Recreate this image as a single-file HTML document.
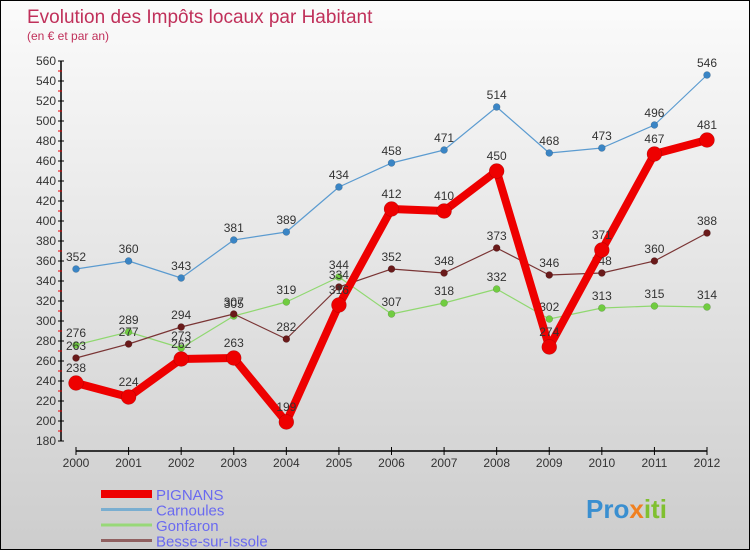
<!DOCTYPE html>
<html><head><meta charset="utf-8"><style>
body{margin:0;}
#c{width:750px;height:550px;position:relative;box-sizing:border-box;border:1px solid #000;background:linear-gradient(#fbfbfb,#cdcdcd);font-family:"Liberation Sans",sans-serif;overflow:hidden}
</style></head><body>
<div id="c">
<svg id="s" width="750" height="550" style="position:absolute;left:0;top:0">
<text x="26" y="22" font-size="19" fill="#c0305a">Evolution des Impôts locaux par Habitant</text>
<text x="26" y="39" font-size="12" fill="#c0305a">(en € et par an)</text>
<g id="axes"></g><g id="series"></g><g id="legend"></g>
<text x="585" y="517" font-size="26" font-weight="bold" fill="#3a8fd0">Pro<tspan fill="#f08020">x</tspan><tspan fill="#80c030">iti</tspan></text>
</svg></div>
<script>
const years=[2000,2001,2002,2003,2004,2005,2006,2007,2008,2009,2010,2011,2012];
const pignans=[238,224,262,263,199,316,412,410,450,274,371,467,481];
const carnoules=[352,360,343,381,389,434,458,471,514,468,473,496,546];
const gonfaron=[276,289,273,305,319,344,307,318,332,302,313,315,314];
const besse=[263,277,294,307,282,334,352,348,373,346,348,360,388];
const yTicks=[180,200,220,240,260,280,300,320,340,360,380,400,420,440,460,480,500,520,540,560];
const NS="http://www.w3.org/2000/svg";
const X=i=>75+i*(706-75)/(years.length-1);
const Y=v=>60+(560-v)*1.0;
function mk(t,a,p){const e=document.createElementNS(NS,t);for(const k in a)e.setAttribute(k,a[k]);p.appendChild(e);return e;}
const ax=document.getElementById('axes');
const yl=mk('line',{x1:60,y1:Y(560),x2:60,y2:Y(180),stroke:'#000','stroke-width':1.5},ax);


yTicks.forEach(v=>{
  mk('line',{x1:57,x2:63,y1:Y(v),y2:Y(v),stroke:'#000'},ax);
  if(v>180) mk('line',{x1:57,x2:61,y1:Y(v)+10,y2:Y(v)+10,stroke:'#e00'},ax);
  const t=mk('text',{x:55,y:Y(v)+4,'text-anchor':'end','font-size':12,fill:'#333'},ax);t.textContent=v;
  
  
});
const xl=mk('line',{x1:75,y1:450,x2:706,y2:450,stroke:'#000','stroke-width':1.5},ax);


years.forEach((y,i)=>{
  mk('line',{x1:X(i),x2:X(i),y1:446,y2:454,stroke:'#000'},ax);
  const t=mk('text',{x:X(i),y:466,'text-anchor':'middle','font-size':12,fill:'#333'},ax);t.textContent=y;
  
  
});
const sg=document.getElementById('series');
function draw(name,vals,color,w,r,dot){
  const g=mk('g',{},sg);
  
  
  mk('polyline',{points:vals.map((v,i)=>X(i)+','+Y(v)).join(' '),fill:'none',stroke:color,'stroke-width':w,'stroke-linejoin':'round'},g);
  vals.forEach((v,i)=>{
    const c=mk('circle',{cx:X(i),cy:Y(v),r:r,fill:dot,stroke:'rgba(0,0,0,0.25)','stroke-width':0.5},g);
    
    
    const t=mk('text',{x:X(i),y:Y(v)-8-(r>5?3:0),'text-anchor':'middle','font-size':12,fill:'#333'},g);t.textContent=v;
    
    
  });
}
draw('carnoules',carnoules,'#5b9bd0',1.2,3.5,'#3a85c5');
draw('gonfaron',gonfaron,'#90d870',1.2,3.5,'#70cc40');
draw('besse',besse,'#7a3535',1.2,3.5,'#6a1a1a');
draw('pignans',pignans,'#ee0000',8,7.5,'#ee0000');
const lg=document.getElementById('legend');
const items=[['PIGNANS','#ee0000',8],['Carnoules','#7aaed0',3],['Gonfaron','#98d878',3],['Besse-sur-Issole','#906060',3]];
items.forEach((it,i)=>{
  const y=493+i*15.5;
  const l=mk('line',{x1:100,x2:151,y1:y,y2:y,stroke:it[1],'stroke-width':it[2]},lg);
  
  
  const t=mk('text',{x:155,y:y+6,'font-size':15,fill:'#6a6af0'},lg);t.textContent=it[0];
  
  
});
</script>
</body></html>
